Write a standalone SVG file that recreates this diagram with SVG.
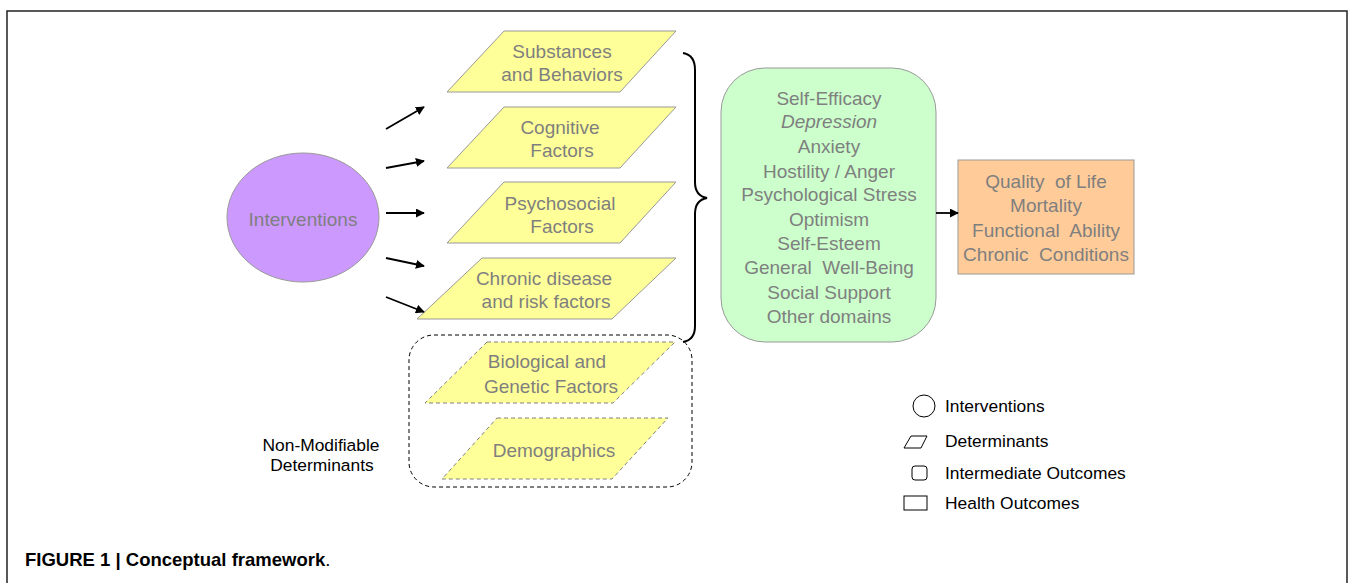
<svg xmlns="http://www.w3.org/2000/svg" width="1354" height="583" viewBox="0 0 1354 583">
<style>
.g{font-family:"Liberation Sans",Arial,sans-serif;font-size:19px;fill:#7f7f7f;text-anchor:middle}
.b{font-family:"Liberation Sans",Arial,sans-serif;font-size:17.4px;fill:#000}
.para{fill:#ffff99;stroke:#999;stroke-width:1}
.dpara{fill:#ffff99;stroke:#808080;stroke-width:1;stroke-dasharray:4,3}
.conn{stroke:#000;stroke-width:1.8;fill:none;marker-end:url(#ah)}
.leg{fill:#fff;stroke:#000;stroke-width:1}
</style>
<defs>
<marker id="ah" viewBox="0 0 10 10" refX="9" refY="5" markerWidth="5" markerHeight="5" orient="auto" markerUnits="strokeWidth">
<path d="M0,0 L10,5 L0,10 z" fill="#000"/>
</marker>
</defs>
<rect x="0" y="0" width="1354" height="583" fill="#fff"/>
<rect x="7" y="11" width="1340" height="600" fill="none" stroke="#222" stroke-width="1.5"/>

<g id="interventions">
<ellipse cx="303" cy="217.5" rx="76" ry="64.5" fill="#cc99ff" stroke="#999" stroke-width="1"/>
<text class="g" x="303" y="226">Interventions</text>
</g>

<g id="substances">
<polygon class="para" points="504,31 676,31 620,92 447,92"/>
<text class="g" x="562" y="58">Substances</text>
<text class="g" x="562" y="81">and Behaviors</text>
</g>
<g id="cognitive">
<polygon class="para" points="504,107 676,107 620,168 447,168"/>
<text class="g" x="560" y="134">Cognitive</text>
<text class="g" x="562" y="157">Factors</text>
</g>
<g id="psychosocial">
<polygon class="para" points="504,182 676,182 620,243 447,243"/>
<text class="g" x="560" y="210">Psychosocial</text>
<text class="g" x="562" y="233">Factors</text>
</g>
<g id="chronic">
<polygon class="para" points="482,258 676,258 612,319 417,319"/>
<text class="g" x="544" y="285">Chronic disease</text>
<text class="g" x="546" y="308">and risk factors</text>
</g>

<g id="nonmodifiable">
<rect x="409" y="335" width="283" height="152" rx="25" ry="25" fill="none" stroke="#000" stroke-width="1" stroke-dasharray="4,3"/>
<text class="b" x="321" y="451" text-anchor="middle">Non-Modifiable</text>
<text class="b" x="322" y="471" text-anchor="middle">Determinants</text>
</g>
<g id="biological">
<polygon class="dpara" points="487,342 675,342 613,403 425,403"/>
<text class="g" x="547" y="368">Biological and</text>
<text class="g" x="551" y="393">Genetic Factors</text>
</g>
<g id="demographics">
<polygon class="dpara" points="497,418 668,418 612,479 442,479"/>
<text class="g" x="554" y="457">Demographics</text>
</g>

<g id="intermediate">
<rect x="721" y="68" width="215" height="274" rx="44" ry="44" fill="#ccffcc" stroke="#999" stroke-width="1"/>
<text class="g" x="829" y="105">Self-Efficacy</text>
<text class="g" x="829" y="128" font-style="italic">Depression</text>
<text class="g" x="829" y="153">Anxiety</text>
<text class="g" x="829" y="178">Hostility / Anger</text>
<text class="g" x="829" y="201">Psychological Stress</text>
<text class="g" x="829" y="226">Optimism</text>
<text class="g" x="829" y="250">Self-Esteem</text>
<text class="g" x="829" y="274" xml:space="preserve">General  Well-Being</text>
<text class="g" x="829" y="299">Social Support</text>
<text class="g" x="829" y="323">Other domains</text>
</g>

<g id="health">
<rect x="958" y="160" width="176" height="114" fill="#ffcc99" stroke="#999" stroke-width="1"/>
<text class="g" x="1046" y="188" xml:space="preserve">Quality  of Life</text>
<text class="g" x="1046" y="212">Mortality</text>
<text class="g" x="1046" y="237" xml:space="preserve">Functional  Ability</text>
<text class="g" x="1046" y="261" xml:space="preserve">Chronic  Conditions</text>
</g>

<g id="connectors">
<line class="conn" x1="386" y1="129" x2="424" y2="107"/>
<line class="conn" x1="386" y1="168" x2="424" y2="161"/>
<line class="conn" x1="386" y1="213" x2="424" y2="213"/>
<line class="conn" x1="386" y1="258" x2="424" y2="266"/>
<line class="conn" x1="386" y1="297" x2="424" y2="312"/>
<line class="conn" x1="936" y1="213" x2="958" y2="213"/>
<path d="M683,53 Q695,55 695,70 L695,182 Q695,196 707,198 Q695,200 695,214 L695,326 Q695,340 683,342" fill="none" stroke="#000" stroke-width="2"/>
</g>

<g id="legend">
<circle class="leg" cx="924" cy="406" r="11"/>
<text class="b" x="945" y="412">Interventions</text>
<polygon class="leg" points="911,436 927,436 921,448 904,448"/>
<text class="b" x="945" y="447">Determinants</text>
<rect class="leg" x="912" y="466" width="15" height="14" rx="3" ry="3"/>
<text class="b" x="945" y="479">Intermediate Outcomes</text>
<rect class="leg" x="904" y="496" width="23" height="14"/>
<text class="b" x="945" y="509">Health Outcomes</text>
</g>

<text x="25" y="566" font-family="'Liberation Sans',Arial,sans-serif" font-size="18.5" fill="#000"><tspan font-weight="bold">FIGURE 1 | Conceptual framework</tspan>.</text>
</svg>
